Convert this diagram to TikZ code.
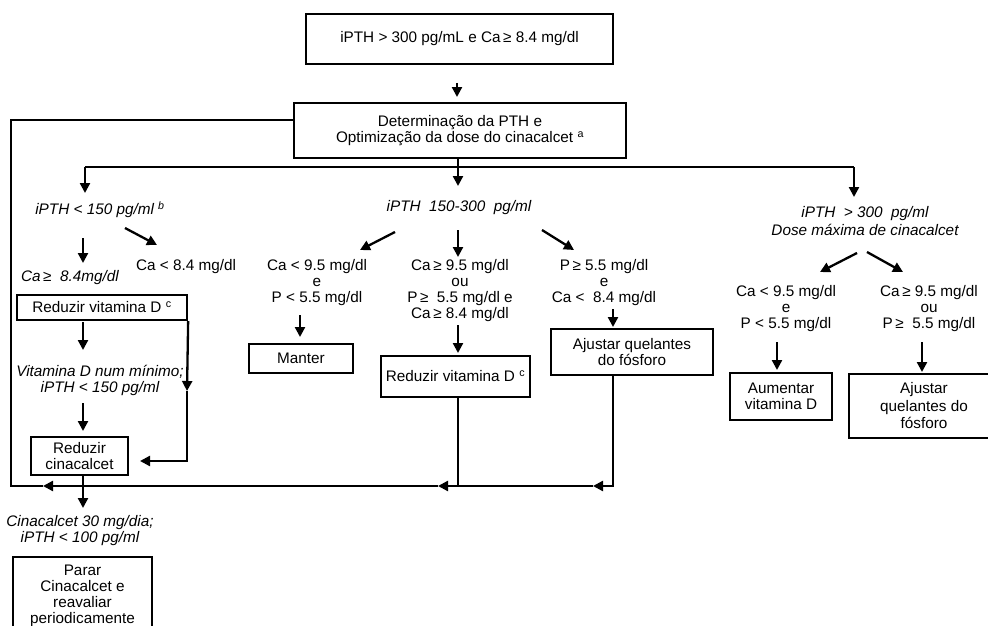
\documentclass[tikz,border=0pt]{standalone}
\usepackage{fontspec}
\setmainfont{Liberation Sans}
\usetikzlibrary{arrows.meta,calc}
\begin{document}
\begin{tikzpicture}[x=1pt,y=-1pt,
  every node/.style={font=\fontsize{15.3}{16}\selectfont, inner sep=0pt, align=center},
  box/.style={draw, line width=2.3pt, rectangle},
  it/.style={font=\fontsize{15.3}{16}\selectfont\itshape},
  ln/.style={line width=2.3pt},
  arr/.style={line width=2.3pt, -{Triangle[length=10pt,width=10pt]}}]
\useasboundingbox (0,0) rectangle (988,626);

% boxes
\node[box, minimum width=307pt, minimum height=50pt] (top) at (459.5,39) {iPTH > 300 pg/mL e Ca\,≥ 8.4 mg/dl};
\node[box, minimum width=332pt, minimum height=55pt] (det) at (460,130.5) {Determinação da PTH e\\Optimização da dose do cinacalcet \textsuperscript{a}};
\node[box, minimum width=170pt, minimum height=25pt] (redA) at (102,307.5) {Reduzir vitamina D \textsuperscript{c}};
\node[box, minimum width=97pt, minimum height=38pt] (redC) at (79.5,456) {Reduzir\\cinacalcet};
\node[box, minimum width=139pt, minimum height=77pt] (parar) at (82.5,595.5) {Parar\\Cinacalcet e\\reavaliar\\periodicamente};
\node[box, minimum width=104pt, minimum height=29pt] (manter) at (301,358.5) {Manter};
\node[box, minimum width=149pt, minimum height=41pt] (redB) at (455.5,376.5) {Reduzir vitamina D \textsuperscript{c}};
\node[box, minimum width=162pt, minimum height=46pt] (ajq) at (632,352) {Ajustar quelantes\\do fósforo};
\node[box, minimum width=102pt, minimum height=47pt] (aum) at (781,396.5) {Aumentar\\vitamina D};
\node[box, minimum width=150pt, minimum height=64pt, font=\fontsize{15.3}{17.5}\selectfont] (ajq2) at (924,406) {Ajustar\\quelantes do\\fósforo};

% text labels
\node[it] (lt150) at (100,210) {iPTH < 150 pg/ml \textsuperscript{b}};
\node[it] (mid) at (459,208) {iPTH \ 150-300 \ pg/ml};
\node[font=\fontsize{15.3}{18}\selectfont\itshape] (gt300) at (865,221) {iPTH \ > 300 \ pg/ml\\Dose máxima de cinacalcet};
\node[it] (caGE) at (70,278) {Ca\,≥ \ 8.4mg/dl};
\node (caLT) at (186,267) {Ca < 8.4 mg/dl};
\node[it] (vitmin) at (100,380) {Vitamina D num mínimo;\\iPTH < 150 pg/ml};
\node[it] (cina) at (80,530.5) {Cinacalcet 30 mg/dia;\\iPTH < 100 pg/ml};
\node (m1) at (317,283) {Ca < 9.5 mg/dl\\e\\P < 5.5 mg/dl};
\node (m2) at (460,291) {Ca\,≥ 9.5 mg/dl\\ou\\P\,≥ \ 5.5 mg/dl e\\Ca\,≥ 8.4 mg/dl};
\node (m3) at (604,283) {P\,≥ 5.5 mg/dl\\e\\Ca < \ 8.4 mg/dl};
\node (r1) at (786,309) {Ca < 9.5 mg/dl\\e\\P < 5.5 mg/dl};
\node (r2) at (929,309) {Ca\,≥ 9.5 mg/dl\\ou\\P\,≥ \ 5.5 mg/dl};

% coordinates
\coordinate (a1s) at (457,83);  \coordinate (a1e) at (457,97);
\coordinate (dm) at (458,186);
\coordinate (hl) at (85,167);   \coordinate (hr) at (854,167);
\coordinate (hle) at (85,193);  \coordinate (hre) at (854,197);
\coordinate (d1s) at (125,228); \coordinate (d1e) at (157,245);
\coordinate (v1s) at (83,238);  \coordinate (v1e) at (83,263);
\coordinate (v2s) at (83,322);  \coordinate (v2e) at (83,350);
\coordinate (v3s) at (83,403);  \coordinate (v3e) at (83,431);
\coordinate (sm) at (187,391);  \coordinate (sv) at (187,461); \coordinate (st) at (140,461);
\coordinate (v4e) at (83,508);
\coordinate (md1s) at (395,232); \coordinate (md1e) at (360,250);
\coordinate (mv0s) at (458,230); \coordinate (mv0e) at (458,257);
\coordinate (md2s) at (542,230); \coordinate (md2e) at (574,250);
\coordinate (mv1s) at (300,315); \coordinate (mv1e) at (300,337);
\coordinate (mv2s) at (458,325); \coordinate (mv2e) at (458,353);
\coordinate (mv3s) at (613,309); \coordinate (mv3e) at (613,327);
\coordinate (rd1s) at (857,253); \coordinate (rd1e) at (820,272);
\coordinate (rd2s) at (867,252); \coordinate (rd2e) at (903,272);
\coordinate (rv1s) at (777,342); \coordinate (rv1e) at (777,370);
\coordinate (rv2s) at (922,342); \coordinate (rv2e) at (922,372);
\coordinate (rj) at (613,486);  \coordinate (t1) at (593,486);
\coordinate (bj) at (458,486);
\coordinate (t2) at (438,486);  \coordinate (t3) at (43,486);
\coordinate (lc) at (11,486);   \coordinate (lu) at (11,120);

% connectors
\draw[arr] (a1s) -- (a1e);
\draw[arr] (det.south -| dm) -- (dm);
\draw[ln] (hl) -- (hr);
\draw[arr] (hl) -- (hle);
\draw[arr] (hr) -- (hre);
\draw[arr] (d1s) -- (d1e);
\draw[arr] (v1s) -- (v1e);
\draw[arr] (v2s) -- (v2e);
\draw[arr] (v3s) -- (v3e);
\draw[arr] (redA.south east) -- (sm);
\draw[arr] (sm) -- (sv) -- (st);
\draw[arr] (redC.south -| v4e) -- (v4e);
\draw[arr] (md1s) -- (md1e);
\draw[arr] (mv0s) -- (mv0e);
\draw[arr] (md2s) -- (md2e);
\draw[arr] (mv1s) -- (mv1e);
\draw[arr] (mv2s) -- (mv2e);
\draw[arr] (mv3s) -- (mv3e);
\draw[arr] (rd1s) -- (rd1e);
\draw[arr] (rd2s) -- (rd2e);
\draw[arr] (rv1s) -- (rv1e);
\draw[arr] (rv2s) -- (rv2e);
% return loop
\draw[arr] (ajq.south -| rj) -- (rj) -- (t1);
\draw[arr] (t1) -- (t2);
\draw[ln] (redB.south -| bj) -- (bj);
\draw[arr] (t2) -- (t3);
\draw[ln] (t3) -- (lc) -- (lu) -- (det.west |- lu);
\end{tikzpicture}
\end{document}
